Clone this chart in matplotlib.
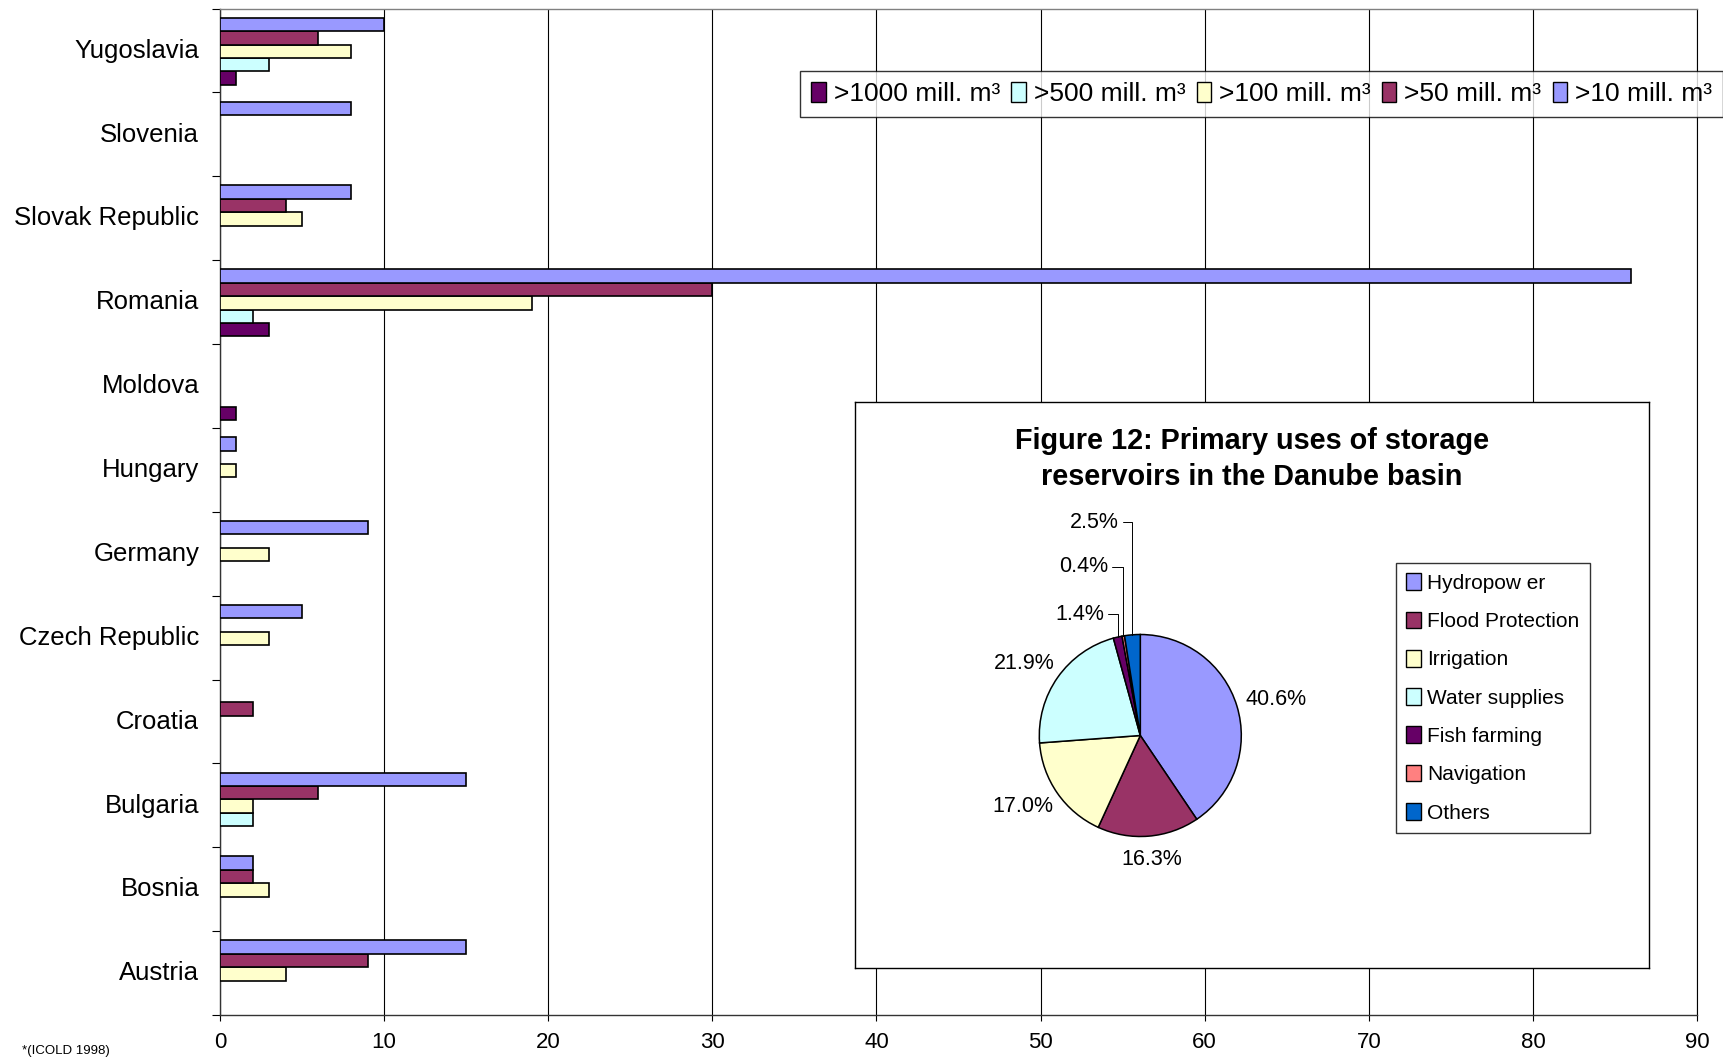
import matplotlib
matplotlib.use('Agg')
import matplotlib.pyplot as plt
import matplotlib.transforms as mtransforms
import numpy as np
from matplotlib.patches import Patch

plt.rcParams['font.family'] = ['Liberation Sans', 'DejaVu Sans']

# ---------------- data ----------------
countries = ['Austria', 'Bosnia', 'Bulgaria', 'Croatia', 'Czech Republic', 'Germany',
             'Hungary', 'Moldova', 'Romania', 'Slovak Republic', 'Slovenia', 'Yugoslavia']
series_labels = ['>1000 mill. m³', '>500 mill. m³', '>100 mill. m³', '>50 mill. m³', '>10 mill. m³']
v1000 = [0, 0, 0, 0, 0, 0, 0, 1, 3, 0, 0, 1]
v500 = [0, 0, 2, 0, 0, 0, 0, 0, 2, 0, 0, 3]
v100 = [4, 3, 2, 0, 3, 3, 1, 0, 19, 5, 0, 8]
v50 = [9, 2, 6, 2, 0, 0, 0, 0, 30, 4, 0, 6]
v10 = [15, 2, 15, 0, 5, 9, 1, 0, 86, 8, 8, 10]
series_colors = ['#660066', '#CCFFFF', '#FFFFCC', '#993366', '#9999FF']

xticks = [0, 10, 20, 30, 40, 50, 60, 70, 80, 90]

uses = ['Hydropow er', 'Flood Protection', 'Irrigation', 'Water supplies',
        'Fish farming', 'Navigation', 'Others']
shares = [40.6, 16.3, 17.0, 21.9, 1.4, 0.4, 2.5]
use_colors = ['#9999FF', '#993366', '#FFFFCC', '#CCFFFF', '#660066', '#FF8080', '#0066CC']

pie_title = 'Figure 12: Primary uses of storage\nreservoirs in the Danube basin'
footnote = '*(ICOLD 1998)'

# ---------------- figure ----------------
W, H = 1724, 1059
fig = plt.figure(figsize=(W / 100, H / 100), dpi=100)

ax = fig.add_axes([220 / W, 44 / H, (1697 - 220) / W, (1015 - 8.5) / H])
y = np.arange(len(countries))
bh = 0.16
all_series = [v1000, v500, v100, v50, v10]
for i, (vals, col) in enumerate(zip(all_series, series_colors)):
    vals = np.array(vals, dtype=float)
    mask = vals > 0
    ax.barh(y[mask] + (i - 2) * bh - 0.01, vals[mask], height=bh, color=col,
            edgecolor='black', linewidth=1.2, zorder=3)

ax.set_xlim(0, 90)
ax.set_ylim(-0.5, len(countries) - 0.5)
ax.set_xticks(xticks)
ax.set_xticklabels([str(t) for t in xticks], fontsize=16)
ax.tick_params(axis='x', length=4, width=0.8, pad=8, direction='out')
ax.set_yticks(np.arange(-0.5, len(countries), 1.0))
ax.set_yticklabels([])
ax.set_yticks(y, minor=True)
ax.set_yticklabels(countries, minor=True, fontsize=18.5)
ax.tick_params(axis='y', which='major', length=6, width=0.8, direction='out')
ax.tick_params(axis='y', which='minor', length=0, pad=15)
shift = mtransforms.ScaledTranslation(0, 1.6 / 72, fig.dpi_scale_trans)
for lab in ax.get_yticklabels(minor=True):
    lab.set_transform(lab.get_transform() + shift)
ax.grid(axis='x', color='black', linewidth=0.8, zorder=0)
ax.set_axisbelow(True)
for s in ['left', 'bottom']:
    ax.spines[s].set_color('#333333')
    ax.spines[s].set_linewidth(1.0)
ax.spines['top'].set_color('#808080')
ax.spines['top'].set_linewidth(1.0)
ax.spines['right'].set_color('black')
ax.spines['right'].set_linewidth(0.8)

# main legend
handles = [Patch(facecolor=c, edgecolor='black', linewidth=1.0) for c in series_colors]
fig.legend(handles, series_labels, loc='upper left', bbox_to_anchor=(800 / W, 1 - 71 / H),
           ncol=5, fontsize=19, frameon=True, fancybox=False, edgecolor='black',
           handlelength=0.55, handleheight=0.75, handletextpad=0.3, columnspacing=0.43,
           borderpad=0.42, borderaxespad=0)

# inset box
axb = fig.add_axes([855 / W, 91 / H, 794 / W, 566 / H])
axb.set_facecolor('white')
axb.set_xticks([])
axb.set_yticks([])
for s in axb.spines.values():
    s.set_color('black')
    s.set_linewidth(1.0)

fig.text(1252 / W, 1 - 459 / H, pie_title, ha='center', va='center',
         fontsize=20.8, fontweight='bold', linespacing=1.32)

# pie
cx, cy, r = 1140.3, 735.5, 101.0
half = 250
axp = fig.add_axes([(cx - half) / W, (H - cy - half) / H, 2 * half / W, 2 * half / H])
axp.axis('off')
wedges, _ = axp.pie(shares, colors=use_colors, startangle=90, counterclock=False,
                    wedgeprops=dict(edgecolor='black', linewidth=1.1), radius=1.0)
axp.set_xlim(-half / r, half / r)
axp.set_ylim(-half / r, half / r)
axp.set_aspect('auto')

small_label_pos = {4: (-0.36, 1.20), 5: (-0.32, 1.67), 6: (-0.21, 2.11)}
for i, (w, v) in enumerate(zip(wedges, shares)):
    ang = np.deg2rad((w.theta1 + w.theta2) / 2)
    ux, uy = np.cos(ang), np.sin(ang)
    txt = f'{v:.1f}%'
    if i in small_label_pos:
        axp.annotate(txt, xy=(ux, uy), xytext=small_label_pos[i], ha='right', va='center',
                     fontsize=15.5,
                     arrowprops=dict(arrowstyle='-', color='black', linewidth=0.7,
                                     shrinkA=1, shrinkB=0,
                                     connectionstyle='angle,angleA=0,angleB=90,rad=0'))
    else:
        axp.text(1.1 * ux + 0.31 * ux, 1.1 * uy + 0.13 * uy, txt, ha='center', va='center',
                 fontsize=15.5)

# pie legend
phandles = [Patch(facecolor=c, edgecolor='black', linewidth=1.0) for c in use_colors]
fig.legend(phandles, uses, loc='upper left', bbox_to_anchor=(1396 / W, 1 - 563 / H),
           fontsize=15, frameon=True, fancybox=False, edgecolor='black',
           labelspacing=0.9, handlelength=0.7, handleheight=0.85, handletextpad=0.3,
           borderpad=0.5, borderaxespad=0)

fig.text(22 / W, 1 - 1051 / H, footnote, ha='left', va='center', fontsize=9.5)

fig.savefig('out.png', dpi=100)
